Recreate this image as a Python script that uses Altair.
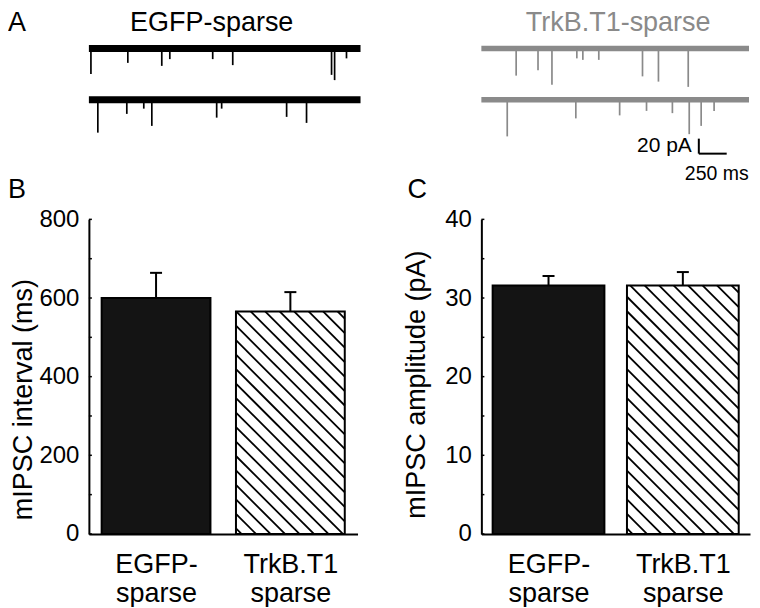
import json
import altair as alt
import pandas as pd

FONT = "Liberation Sans"

# ---------------- Panel A: example sweeps (event times / amplitudes)
trace_length_ms = 2400
trace_offsets_pA = [0, -68]
egfp_sweep1_times_ms = [18, 344, 644, 715, 1094, 1271, 2144, 2171, 2276]
egfp_sweep1_amps_pA = [34, 19, 23, 14, 14, 22, 35, 42, 13]
egfp_sweep2_times_ms = [79, 335, 485, 556, 1129, 1173, 1747, 1923]
egfp_sweep2_amps_pA = [44, 19, 12, 35, 24, 12, 23, 31]
trkb_sweep1_times_ms = [312, 508, 633, 856, 910, 1053, 1445, 1588, 1855]
trkb_sweep1_amps_pA = [36, 29, 48, 13, 15, 15, 37, 44, 51]
trkb_sweep2_times_ms = [232, 847, 1240, 1481, 1713, 1864, 1971, 2087]
trkb_sweep2_amps_pA = [49, 25, 21, 15, 18, 46, 35, 15]
scale_bar_pA = 20
scale_bar_ms = 250
trace_titles = ["EGFP-sparse", "TrkB.T1-sparse"]

# ---------------- Panels B, C: group means +/- SEM
groups = ["EGFP-\nsparse", "TrkB.T1\nsparse"]
interval_mean_ms = [600, 566]
interval_sem_ms = [64, 49]
amplitude_mean_pA = [31.6, 31.6]
amplitude_sem_pA = [1.2, 1.7]

# ---------------- layout / style constants
TRACE_H = 154
TRACE_Y_DOMAIN = [-190, 15]
BAR_H = 315
TOP_TEXT_Y = -27.75
BLACK = "#000000"
GRAY = "#8a8a8a"


def trace_chart(title, color, width, sweeps, band, title_x, letter=None, scale_bar=False):
    xs = alt.Scale(domain=[0, trace_length_ms], nice=False, zero=False)
    ys = alt.Scale(domain=TRACE_Y_DOMAIN, nice=False, zero=False)
    base_df = pd.DataFrame({
        "start": [0] * len(trace_offsets_pA),
        "end": [trace_length_ms] * len(trace_offsets_pA),
        "level": trace_offsets_pA,
    })
    rows = []
    for off, (times, amps) in zip(trace_offsets_pA, sweeps):
        for t, a in zip(times, amps):
            rows.append({"t": t, "y0": off, "y1": off - a})
    ev_df = pd.DataFrame(rows)
    layers = [
        alt.Chart(base_df).mark_rule(color=color, strokeWidth=band).encode(
            x=alt.X("start:Q", scale=xs, axis=None), x2="end:Q",
            y=alt.Y("level:Q", scale=ys, axis=None)),
        alt.Chart(ev_df).mark_rule(color=color, strokeWidth=1.7).encode(
            x=alt.X("t:Q", scale=xs, axis=None),
            y=alt.Y("y0:Q", scale=ys, axis=None), y2="y1:Q"),
        alt.Chart(pd.DataFrame({"label": [title]})).mark_text(
            fontSize=27, color=color, align="center", baseline="top").encode(
            x=alt.value(title_x), y=alt.value(TOP_TEXT_Y), text="label:N"),
    ]
    if letter:
        layers.append(alt.Chart(pd.DataFrame({"label": [letter]})).mark_text(
            fontSize=27, color=BLACK, align="left", baseline="top").encode(
            x=alt.value(-81), y=alt.value(TOP_TEXT_Y), text="label:N"))
    if scale_bar:
        sb_t, sb_y = 1950, -140
        sb_df = pd.DataFrame({
            "x0": [sb_t, sb_t], "x1": [sb_t, sb_t + scale_bar_ms],
            "y0": [sb_y, sb_y], "y1": [sb_y + scale_bar_pA, sb_y]})
        layers.append(alt.Chart(sb_df).mark_rule(color=BLACK, strokeWidth=2).encode(
            x=alt.X("x0:Q", scale=xs, axis=None), x2="x1:Q",
            y=alt.Y("y0:Q", scale=ys, axis=None), y2="y1:Q"))
        lab_df = pd.DataFrame({
            "t": [sb_t, sb_t + scale_bar_ms], "y": [sb_y + scale_bar_pA / 2, -167],
            "label": [f"{scale_bar_pA} pA", f"{scale_bar_ms} ms"]})
        layers.append(alt.Chart(lab_df.iloc[[0]]).mark_text(
            fontSize=21, color=BLACK, align="right", baseline="middle", dx=-7).encode(
            x=alt.X("t:Q", scale=xs, axis=None), y=alt.Y("y:Q", scale=ys, axis=None),
            text="label:N"))
        layers.append(alt.Chart(lab_df.iloc[[1]]).mark_text(
            fontSize=19.5, color=BLACK, align="right", baseline="middle", dx=22).encode(
            x=alt.X("t:Q", scale=xs, axis=None), y=alt.Y("y:Q", scale=ys, axis=None),
            text="label:N"))
    return alt.layer(*layers).properties(width=width, height=TRACE_H)


def hatch_segments(x0, x1, y0, y1, px_x, px_y, spacing):
    X0, X1 = x0 * px_x, x1 * px_x
    Yt, Yb = -y1 * px_y, -y0 * px_y
    segs = []
    c = Yt - X1 + spacing * 0.5
    while c < Yb - X0:
        xa = max(X0, Yt - c)
        xb = min(X1, Yb - c)
        if xb > xa:
            segs.append({"hx0": xa / px_x, "hy0": -(xa + c) / px_y,
                         "hx1": xb / px_x, "hy1": -(xb + c) / px_y})
        c += spacing
    return segs


def bar_chart(means, sems, ymax, ystep, minor, ytitle, width, pad, title_x, title_y,
              letter, letter_x):
    n = len(groups)
    xs = alt.Scale(domain=[0, n], nice=False, zero=False)
    ys = alt.Scale(domain=[0, ymax], nice=False, zero=True)
    px_x = width / n
    px_y = BAR_H / ymax
    cap = 6 / px_x
    df = pd.DataFrame({
        "x0": [i + pad for i in range(n)],
        "x1": [i + 1 - pad for i in range(n)],
        "xc": [i + 0.5 for i in range(n)],
        "cx0": [i + 0.5 - cap for i in range(n)],
        "cx1": [i + 0.5 + cap for i in range(n)],
        "mean": means,
        "top": [m + s for m, s in zip(means, sems)],
        "zero": [0] * n,
        "fill": ["#141414", "#ffffff"],
    })
    hatch = pd.DataFrame(hatch_segments(1 + pad, 2 - pad, 0, means[1],
                                        px_x, px_y, 14.5))
    labels = [g.split("\n") for g in groups]
    expr = f"datum.value < 1 ? {json.dumps(labels[0])} : {json.dumps(labels[1])}"
    x_axis = alt.Axis(values=[i + 0.5 for i in range(n)], labelExpr=expr, ticks=False,
                      tickSize=0, grid=False, domainColor=BLACK, domainWidth=2,
                      labelFontSize=27, labelLineHeight=28.5, labelPadding=18,
                      labelColor=BLACK, labelAngle=0, labelFlush=False, title=None)
    y_axis = alt.Axis(values=list(range(0, ymax + 1, ystep)), ticks=False, tickSize=0,
                      grid=False, domainColor=BLACK, domainWidth=2, labelFontSize=24,
                      labelPadding=10, labelColor=BLACK, labelFlush=False,
                      title=ytitle, titleFontSize=27, titleFontWeight="normal",
                      titleColor=BLACK, titleX=title_x, titleY=title_y,
                      titleAngle=270, titleAlign="center", titleBaseline="bottom")
    X = lambda f: alt.X(f, scale=xs, axis=x_axis)
    Y = lambda f: alt.Y(f, scale=ys, axis=y_axis)
    bars = alt.Chart(df).mark_rect().encode(
        x=X("x0:Q"), x2="x1:Q", y=Y("mean:Q"), y2="zero:Q",
        fill=alt.Fill("fill:N", scale=None))
    hatch_l = alt.Chart(hatch).mark_rule(color=BLACK, strokeWidth=1.8).encode(
        x=X("hx0:Q"), x2="hx1:Q", y=Y("hy0:Q"), y2="hy1:Q")
    outline = alt.Chart(df).mark_rect(fillOpacity=0, stroke=BLACK, strokeWidth=2).encode(
        x=X("x0:Q"), x2="x1:Q", y=Y("mean:Q"), y2="zero:Q")
    err = alt.Chart(df).mark_rule(color=BLACK, strokeWidth=2).encode(
        x=X("xc:Q"), y=Y("mean:Q"), y2="top:Q")
    caps = alt.Chart(df).mark_rule(color=BLACK, strokeWidth=2).encode(
        x=X("cx0:Q"), x2="cx1:Q", y=Y("top:Q"))
    ticks = alt.Chart(pd.DataFrame({"v": list(range(0, ymax + 1, minor))})).mark_rule(
        color=BLACK, strokeWidth=1.5).encode(
        x=alt.value(0), x2=alt.value(3), y=Y("v:Q"))
    let = alt.Chart(pd.DataFrame({"label": [letter]})).mark_text(
        fontSize=27, color=BLACK, align="left", baseline="alphabetic").encode(
        x=alt.value(letter_x), y=alt.value(-21), text="label:N")
    return alt.layer(bars, hatch_l, outline, err, caps, ticks, let).properties(
        width=width, height=BAR_H)


egfp = trace_chart(trace_titles[0], BLACK, 272,
                   [(egfp_sweep1_times_ms, egfp_sweep1_amps_pA),
                    (egfp_sweep2_times_ms, egfp_sweep2_amps_pA)],
                   7, 123, letter="A")
trkb = trace_chart(trace_titles[1], GRAY, 268,
                   [(trkb_sweep1_times_ms, trkb_sweep1_amps_pA),
                    (trkb_sweep2_times_ms, trkb_sweep2_amps_pA)],
                   5.5, 137, scale_bar=True)
chart_b = bar_chart(interval_mean_ms, interval_sem_ms, 800, 200, 100,
                    "mIPSC interval (ms)", 269, 0.095, -51, 180, "B", -81)
chart_c = bar_chart(amplitude_mean_pA, amplitude_sem_pA, 40, 10, 5,
                    "mIPSC amplitude (pA)", 269, 0.084, -51, 165, "C", -74)

chart = alt.concat(egfp, trkb, chart_b, chart_c, columns=2,
                   spacing={"row": 28.25, "column": 121},
                   bounds="flush", align="each").properties(
    padding=0, background="white").configure(font=FONT).configure_view(stroke=None)

chart.save("out.html", embed_options={"renderer": "svg", "actions": False})
